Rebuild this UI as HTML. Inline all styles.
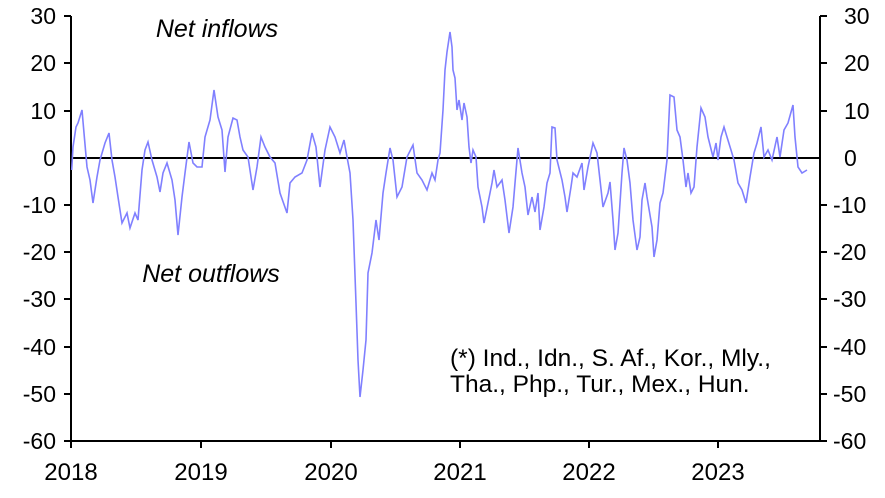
<!DOCTYPE html>
<html><head><meta charset="utf-8"><style>
body{margin:0;background:#fff;}
svg{display:block;font-family:"Liberation Sans",Arial,sans-serif;}
</style></head><body>
<svg width="885" height="498" viewBox="0 0 885 498">
<g font-size="23" fill="#000">
<g text-anchor="end">
<text x="56" y="24">30</text><text x="56" y="71">20</text><text x="56" y="119">10</text><text x="56" y="166">0</text>
<text x="56" y="213">-10</text><text x="56" y="260">-20</text><text x="56" y="307">-30</text><text x="56" y="355">-40</text>
<text x="56" y="402">-50</text><text x="56" y="449">-60</text>
</g>
<g text-anchor="start">
<text x="844" y="24">30</text><text x="844" y="71">20</text><text x="844" y="119">10</text><text x="844" y="166">0</text>
<text x="833" y="213">-10</text><text x="833" y="260">-20</text><text x="833" y="307">-30</text><text x="833" y="355">-40</text>
<text x="833" y="402">-50</text><text x="833" y="449">-60</text>
</g>
<g text-anchor="middle" font-size="24">
<text x="71" y="480">2018</text><text x="201" y="480">2019</text><text x="331" y="480">2020</text>
<text x="460" y="480">2021</text><text x="589" y="480">2022</text><text x="718" y="480">2023</text>
</g>
<text x="217" y="37" text-anchor="middle" font-style="italic" font-size="25">Net inflows</text>
<text x="211" y="282" text-anchor="middle" font-style="italic" font-size="25">Net outflows</text>
<text x="450" y="366" font-size="24.5">(*) Ind., Idn., S. Af., Kor., Mly.,</text>
<text x="450" y="392" font-size="24.5">Tha., Php., Tur., Mex., Hun.</text>
</g>
<g stroke="#000" stroke-width="2" fill="none">
<line x1="71" y1="16" x2="71" y2="442"/>
<line x1="820" y1="16" x2="820" y2="442"/>
<line x1="70" y1="441" x2="821" y2="441"/>
<line x1="71" y1="158" x2="820" y2="158"/>
<path d="M64 16H71M64 63H71M64 111H71M64 205H71M64 252H71M64 299H71M64 347H71M64 394H71M64 441H71"/>
<path d="M820 16H827M820 63H827M820 111H827M820 205H827M820 252H827M820 299H827M820 347H827M820 394H827M820 441H827"/>
<path d="M71 441V448M201 441V448M331 441V448M460 441V448M589 441V448M718 441V448"/>
</g>
<polyline fill="none" stroke="#8080ff" stroke-width="1.6" points="71.7,170 73,147 76,127 78,123 82,110 84,133 87,167 90,180 93,203 97,177 100,160 105,143 109,133 112,160 115,177 118,197 122,223 127,213 130,228 135,213 138,220 142,170 145,150 148,142 152,160 157,177 160,192 163,173 167,163 172,180 175,200 178,235 182,197 185,173 189,142 193,163 197,167 202,167 205,137 210,120 214,90 218,117 222,130 225,172 228,137 233,118 237,120 240,137 243,150 248,157 253,190 257,167 261,137 265,147 270,157 275,163 280,193 287,213 290,183 295,177 302,173 307,160 312,133 316,147 320,187 325,150 330,127 335,137 340,153 344,140 347,157 350,173 353,220 356,303 358,360 360,397 363,370 366,340 368,273 372,253 376,220 379,240 383,193 386,173 390,148 393,160 397,197 402,187 407,157 413,145 417,173 422,180 427,190 432,173 435,180 438,160 440,153 443,110 445,70 447,52 450,32 452,47 453,70 455,78 457,110 459,100 462,120 464,103 467,117 469,147 471,163 473,150 476,157 478,187 482,207 484,223 488,203 492,183 494,170 497,187 502,180 505,200 509,233 513,207 515,183 518,148 522,173 525,187 528,215 532,197 535,212 538,193 540,230 544,207 547,183 550,173 552,127 555,128 557,160 562,180 565,197 567,212 571,187 573,173 577,177 582,163 584,190 588,167 593,143 597,153 600,180 603,207 608,193 610,182 613,220 615,250 618,233 622,173 624,148 627,160 630,183 633,220 637,250 640,237 642,200 645,183 647,197 652,227 654,257 657,240 660,203 663,193 667,160 670,95 674,97 677,130 680,137 683,160 686,187 688,173 691,193 694,187 697,147 701,108 705,117 708,137 713,157 716,143 718,160 721,137 724,127 727,137 731,150 734,160 738,183 742,190 746,203 750,177 754,153 757,143 761,127 764,157 768,150 772,160 777,137 780,157 784,130 788,123 793,105 795,137 798,167 802,173 807,170"/>
</svg>
</body></html>
